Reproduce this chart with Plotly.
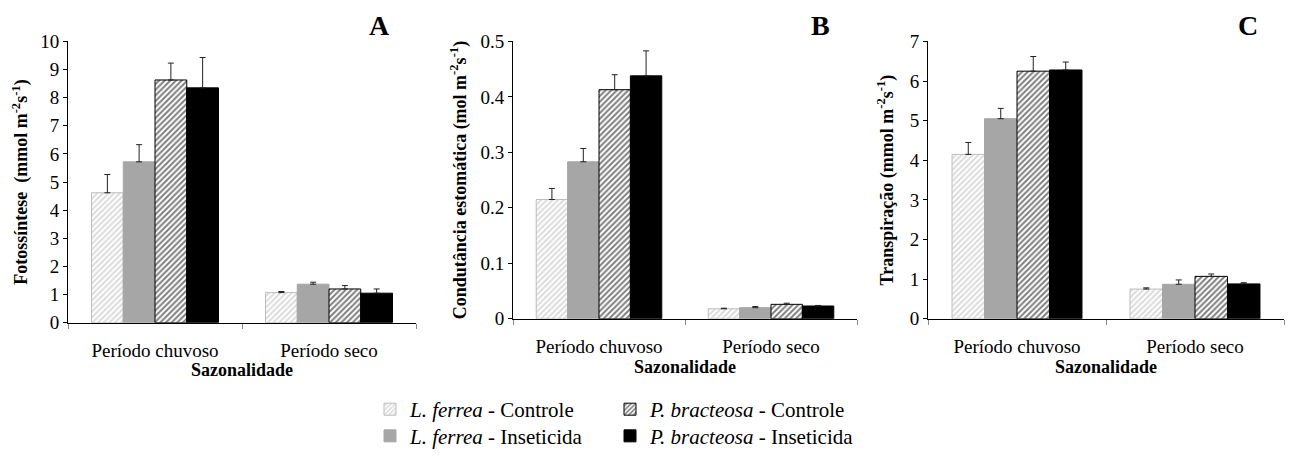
import plotly.graph_objects as go

categories = ["Período chuvoso", "Período seco"]
series_names = [
    "<i>L. ferrea</i> - Controle",
    "<i>L. ferrea</i> - Inseticida",
    "<i>P. bracteosa</i> - Controle",
    "<i>P. bracteosa</i> - Inseticida",
]

# Panel A - Fotossíntese
fot_vals = [[4.62, 1.07], [5.72, 1.37], [8.63, 1.20], [8.35, 1.05]]
fot_err = [[0.65, 0.04], [0.61, 0.07], [0.60, 0.12], [1.08, 0.15]]
# Panel B - Condutância estomática
cond_vals = [[0.215, 0.018], [0.283, 0.020], [0.413, 0.026], [0.438, 0.023]]
cond_err = [[0.020, 0.001], [0.024, 0.002], [0.027, 0.002], [0.045, 0.001]]
# Panel C - Transpiração
tra_vals = [[4.15, 0.75], [5.05, 0.87], [6.25, 1.07], [6.28, 0.88]]
tra_err = [[0.30, 0.03], [0.26, 0.11], [0.37, 0.06], [0.20, 0.03]]

panel_letters = ["A", "B", "C"]
y_titles = [
    "Fotossíntese  (mmol m<sup>-2</sup>s<sup>-1</sup>)",
    "Condutância estomática (mol m<sup>-2</sup>s<sup>-1</sup>)",
    "Transpiração (mmol m<sup>-2</sup>s<sup>-1</sup>)",
]
x_title = "Sazonalidade"
y_ranges = [[0, 10], [0, 0.5], [0, 7]]
y_dticks = [1, 0.1, 1]

styles = [
    dict(color="white", line=dict(color="#BDBDBD", width=1),
         pattern=dict(shape="/", fgcolor="#B8B8B8", bgcolor="white", size=4, solidity=0.5)),
    dict(color="#A6A6A6", line=dict(color="#A6A6A6", width=1)),
    dict(color="white", line=dict(color="black", width=1),
         pattern=dict(shape="/", fgcolor="black", bgcolor="white", size=4, solidity=0.5)),
    dict(color="black", line=dict(color="black", width=1)),
]
legend_ids = ["legend", "legend2", "legend3", "legend4"]

W, H = 1291, 457
panels = [
    dict(x0=68, x1=416, ytop=42, ybot=327, vals=fot_vals, err=fot_err, ystand=7),
    dict(x0=513, x1=857, ytop=42, ybot=323, vals=cond_vals, err=cond_err, ystand=9),
    dict(x0=928, x1=1284, ytop=42, ybot=323, vals=tra_vals, err=tra_err, ystand=11),
]

fig = go.Figure()
font_family = "Liberation Serif"

layout_axes = {}
for p_i, p in enumerate(panels):
    xa = "x" if p_i == 0 else f"x{p_i+1}"
    ya = "y" if p_i == 0 else f"y{p_i+1}"
    for s_i in range(4):
        fig.add_trace(go.Bar(
            x=categories, y=p["vals"][s_i], name=series_names[s_i],
            marker=styles[s_i], xaxis=xa, yaxis=ya,
            error_y=dict(type="data", array=p["err"][s_i], arrayminus=[0, 0],
                         symmetric=False, color="#222222", thickness=1, width=3),
            showlegend=(p_i == 0), legend=legend_ids[s_i],
        ))
    xkey = "xaxis" if p_i == 0 else f"xaxis{p_i+1}"
    ykey = "yaxis" if p_i == 0 else f"yaxis{p_i+1}"
    layout_axes[xkey] = dict(
        domain=[p["x0"] / W, p["x1"] / W], anchor=ya,
        showline=True, linecolor="black", linewidth=1,
        ticks="outside", tickson="boundaries", ticklen=5, tickcolor="#888",
        ticklabelstandoff=10,
        tickfont=dict(family=font_family, size=19, color="black"),
        title=dict(text="<b>" + x_title + "</b>", standoff=2,
                   font=dict(family=font_family, size=18, color="black")),
        showgrid=False, automargin=False,
    )
    layout_axes[ykey] = dict(
        domain=[1 - p["ybot"] / H, 1 - p["ytop"] / H], anchor=xa,
        range=y_ranges[p_i], dtick=y_dticks[p_i],
        showline=True, linecolor="black", linewidth=1,
        ticks="outside", ticklen=4, tickcolor="black",
        tickfont=dict(family=font_family, size=19, color="black"),
        title=dict(text="<b>" + y_titles[p_i] + "</b>", standoff=p["ystand"],
                   font=dict(family=font_family, size=18, color="black")),
        showgrid=False, zeroline=False, automargin=False,
    )
    fig.add_annotation(
        x=p["x1"] / W - 0.028, y=1 - 26 / H, xref="paper", yref="paper",
        text="<b>" + panel_letters[p_i] + "</b>", showarrow=False,
        font=dict(family=font_family, size=28, color="black"),
        xanchor="center", yanchor="middle",
    )

legend_common = dict(
    orientation="h", xanchor="left", yanchor="middle",
    font=dict(family=font_family, size=21, color="black"),
    itemwidth=30, bgcolor="rgba(0,0,0,0)", tracegroupgap=0,
)
col_x = [370 / W, 610 / W]
row_y = [1 - 415 / H, 1 - 442 / H]
fig.update_layout(
    width=W, height=H,
    margin=dict(l=0, r=0, t=0, b=0),
    paper_bgcolor="white", plot_bgcolor="white",
    barmode="group", bargap=0.27, bargroupgap=0,
    font=dict(family=font_family, size=18, color="black"),
    legend=dict(x=col_x[0], y=row_y[0], **legend_common),
    legend2=dict(x=col_x[0], y=row_y[1], **legend_common),
    legend3=dict(x=col_x[1], y=row_y[0], **legend_common),
    legend4=dict(x=col_x[1], y=row_y[1], **legend_common),
    **layout_axes,
)

fig.write_html("out.html")
